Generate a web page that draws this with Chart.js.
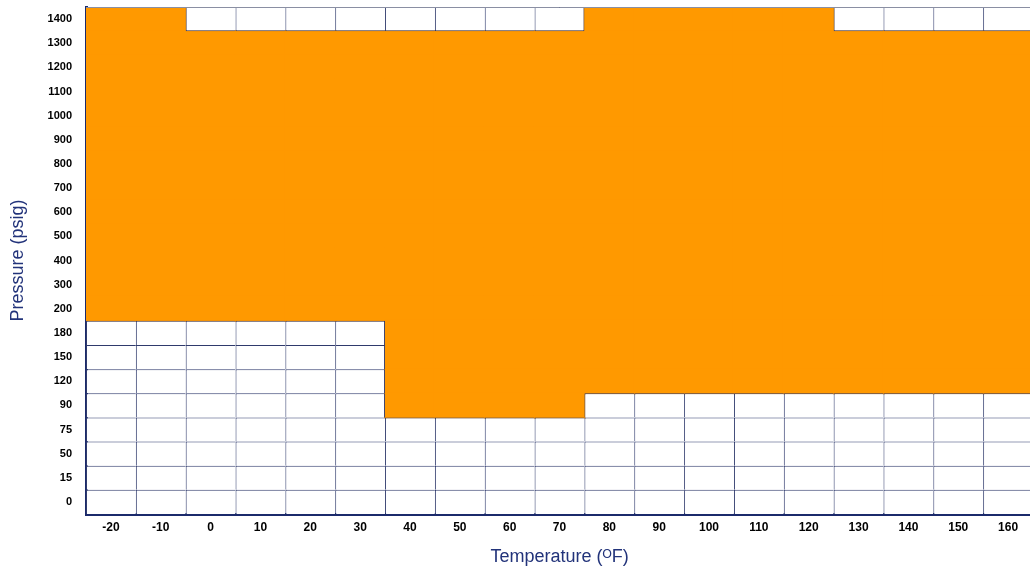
<!DOCTYPE html>
<html>
<head>
<meta charset="utf-8">
<script src="https://cdn.jsdelivr.net/npm/chart.js@4/dist/chart.umd.min.js"></script>
<style>
  html, body { margin: 0; padding: 0; background: #fff; overflow: hidden; }
  #wrap { width: 1033px; height: 568px; }
</style>
</head>
<body>
<div id="wrap"><canvas id="grafico"></canvas></div>
<script>
const temps = [-20, -10, 0, 10, 20, 30, 40, 50, 60, 70, 80, 90, 100, 110, 120, 130, 140, 150, 160];
const pressures = [0, 15, 50, 75, 90, 120, 150, 180, 200, 300, 400, 500, 600, 700, 800, 900, 1000, 1100, 1200, 1300, 1400];

// 1 = shaded (orange) cell, one row per pressure, bottom row first
const shaded = [
    [0,0,0,0,0,0,0,0,0,0,0,0,0,0,0,0,0,0,0], // 0
    [0,0,0,0,0,0,0,0,0,0,0,0,0,0,0,0,0,0,0], // 15
    [0,0,0,0,0,0,0,0,0,0,0,0,0,0,0,0,0,0,0], // 50
    [0,0,0,0,0,0,0,0,0,0,0,0,0,0,0,0,0,0,0], // 75
    [0,0,0,0,0,0,1,1,1,1,0,0,0,0,0,0,0,0,0], // 90
    [0,0,0,0,0,0,1,1,1,1,1,1,1,1,1,1,1,1,1], // 120
    [0,0,0,0,0,0,1,1,1,1,1,1,1,1,1,1,1,1,1], // 150
    [0,0,0,0,0,0,1,1,1,1,1,1,1,1,1,1,1,1,1], // 180
    [1,1,1,1,1,1,1,1,1,1,1,1,1,1,1,1,1,1,1], // 200
    [1,1,1,1,1,1,1,1,1,1,1,1,1,1,1,1,1,1,1], // 300
    [1,1,1,1,1,1,1,1,1,1,1,1,1,1,1,1,1,1,1], // 400
    [1,1,1,1,1,1,1,1,1,1,1,1,1,1,1,1,1,1,1], // 500
    [1,1,1,1,1,1,1,1,1,1,1,1,1,1,1,1,1,1,1], // 600
    [1,1,1,1,1,1,1,1,1,1,1,1,1,1,1,1,1,1,1], // 700
    [1,1,1,1,1,1,1,1,1,1,1,1,1,1,1,1,1,1,1], // 800
    [1,1,1,1,1,1,1,1,1,1,1,1,1,1,1,1,1,1,1], // 900
    [1,1,1,1,1,1,1,1,1,1,1,1,1,1,1,1,1,1,1], // 1000
    [1,1,1,1,1,1,1,1,1,1,1,1,1,1,1,1,1,1,1], // 1100
    [1,1,1,1,1,1,1,1,1,1,1,1,1,1,1,1,1,1,1], // 1200
    [1,1,1,1,1,1,1,1,1,1,1,1,1,1,1,1,1,1,1], // 1300
    [1,1,0,0,0,0,0,0,0,0,1,1,1,1,1,0,0,0,0]  // 1400
];

const ORANGE = '#ff9900';
const LINE = '#2f3a6c';
const NAVY = '#1b2a6b';
const TITLE = '#22337a';

// white cells draw top/left edges, plus right/bottom where the neighbour is orange
function cellBorder(ctx) {
    const i = ctx.dataset.row, j = ctx.dataIndex;
    return {
        top: 1,
        left: 1,
        right: (j === temps.length - 1 || shaded[i][j + 1]) ? 1 : 0,
        bottom: (i > 0 && shaded[i - 1][j]) ? 1 : 0
    };
}

const datasets = [];
pressures.forEach((p, i) => {
    // orange cells underneath, slightly inflated so no seams show
    datasets.push({
        label: p + ' psig',
        row: i,
        data: temps.map((t, j) => shaded[i][j] ? [i, i + 1] : null),
        backgroundColor: ORANGE,
        borderWidth: 0,
        inflateAmount: 1,
        order: 2
    });
    datasets.push({
        label: p + ' psig',
        row: i,
        data: temps.map((t, j) => shaded[i][j] ? null : [i, i + 1]),
        backgroundColor: '#ffffff',
        borderColor: LINE,
        borderWidth: cellBorder,
        borderSkipped: false,
        inflateAmount: 0,
        order: 1
    });
});

// thin grey line along the top edge of the grid
const topEdge = {
    id: 'topEdge',
    afterDatasetsDraw(chart) {
        const a = chart.chartArea, c = chart.ctx;
        c.save();
        c.strokeStyle = '#8a8fa3';
        c.lineWidth = 1;
        c.beginPath();
        c.moveTo(a.left, Math.round(a.top) + 0.5);
        c.lineTo(a.right, Math.round(a.top) + 0.5);
        c.stroke();
        c.restore();
    }
};

new Chart(document.getElementById('grafico'), {
    type: 'bar',
    data: { labels: temps.map(String), datasets: datasets },
    plugins: [topEdge],
    options: {
        responsive: true,
        maintainAspectRatio: false,
        animation: false,
        grouped: false,
        barPercentage: 1,
        categoryPercentage: 1,
        layout: { padding: { top: 7, right: 0, left: 0, bottom: 0 } },
        plugins: {
            legend: { display: false },
            tooltip: {
                callbacks: {
                    title: items => temps[items[0].dataIndex] + ' \u00b0F',
                    label: item => pressures[item.dataset.row] + ' psig'
                }
            }
        },
        scales: {
            x: {
                grid: { display: false, drawTicks: false },
                border: { color: NAVY, width: 3 },
                ticks: {
                    color: '#000',
                    font: { family: 'Liberation Sans', size: 12, weight: 'bold' },
                    maxRotation: 0,
                    autoSkip: false,
                    padding: 6
                },
                title: {
                    display: true,
                    text: 'Temperature (\u1D3CF)',
                    color: TITLE,
                    font: { family: 'Liberation Sans', size: 18 },
                    padding: { top: 8, bottom: 0 }
                },
                afterFit: function (scale) {
                    scale.height = 54;
                    scale.paddingLeft = 0;
                    scale.paddingRight = 0;
                }
            },
            y: {
                min: 0,
                max: pressures.length,
                grid: { display: false, drawTicks: false },
                border: { color: NAVY, width: 3 },
                afterBuildTicks: function (axis) {
                    axis.ticks = pressures.map((p, i) => ({ value: i + 0.5 }));
                },
                ticks: {
                    autoSkip: false,
                    color: '#000',
                    font: { family: 'Liberation Sans', size: 11, weight: 'bold' },
                    padding: 14,
                    callback: v => pressures[Math.round(v - 0.5)]
                },
                title: {
                    display: true,
                    text: 'Pressure (psig)',
                    color: TITLE,
                    font: { family: 'Liberation Sans', size: 18 },
                    padding: { top: 7, bottom: 0 }
                },
                afterFit: function (scale) {
                    scale.width = 86;
                    scale.paddingTop = 0;
                    scale.paddingBottom = 0;
                }
            }
        }
    }
});
</script>
</body>
</html>
